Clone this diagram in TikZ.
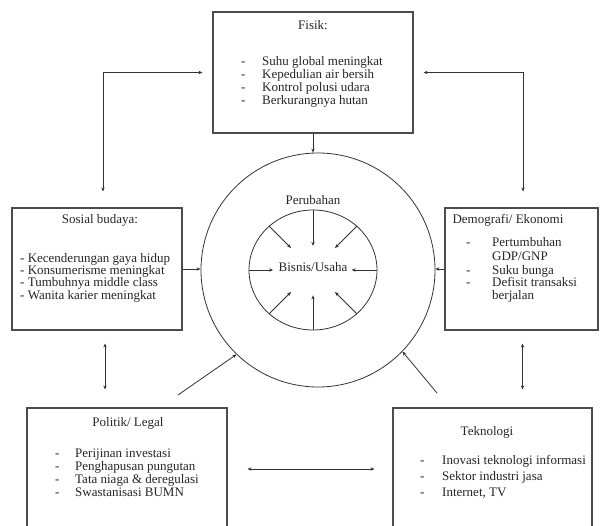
\documentclass[tikz,border=0pt]{standalone}
\usepackage{fontspec}
\setmainfont{Liberation Serif}
\usetikzlibrary{arrows.meta,calc,shapes.geometric}
\begin{document}
\begin{tikzpicture}[x=1pt,y=-1pt,
  box/.style={draw=black!70,line width=1.1pt,rectangle,inner sep=0pt},
  txt/.style={font=\fontsize{13}{13.5}\selectfont,inner sep=0pt,text=black!85},
  itm/.style={txt,anchor=base west},
  con/.style={draw=black!80,line width=0.8pt},
  tip/.style={-{Stealth[length=4pt,width=3.4pt]}},
  dbl/.style={{Stealth[length=4pt,width=3.4pt]}-{Stealth[length=4pt,width=3.4pt]}}
]
\useasboundingbox (0,0) rectangle (604,526);
\clip (0,0) rectangle (604,526);
\fill[white] (0,0) rectangle (604,526);

% boxes
\node[box,minimum width=200pt,minimum height=121pt] (fisik) at (313,72.5) {};
\node[box,minimum width=170pt,minimum height=122pt] (sosial) at (97,269) {};
\node[box,minimum width=153pt,minimum height=122pt] (demo) at (521.5,269) {};
\node[box,minimum width=200pt,minimum height=140pt] (politik) at (127,478) {};
\node[box,minimum width=199pt,minimum height=140pt] (tekno) at (492.5,478) {};

% circles
\node[con,circle,minimum size=234pt,inner sep=0pt] (outer) at (318,270) {};
\node[con,ellipse,minimum width=128pt,minimum height=120pt,inner sep=0pt] (inner) at (313,270) {};
\node[txt] (perubahan) at (313,200) {Perubahan};
\node[txt] (bisnis) at (313,267) {Bisnis/Usaha};

\foreach \a/\r in {90/0.4, 270/0.42, 180/0.62, 0/0.6, 135/0.5, 45/0.5, 225/0.5, 315/0.5}
  \draw[con,tip] (inner.\a) -- ($(inner.center)!\r!(inner.\a)$);

% titles
\node[txt] (fisikT) at (313,25) {Fisik:};
\node[txt] (sosialT) at (100,220) {Sosial budaya:};
\node[txt] (demoT) at (508,220) {Demografi/ Ekonomi};
\node[txt] (polT) at (128,423) {Politik/ Legal};
\node[txt] (tekT) at (487,432) {Teknologi};

% Fisik items
\foreach \t [count=\i] in {Suhu global meningkat, Kepedulian air bersih, Kontrol polusi udara, Berkurangnya hutan}
  \node[itm] (f\i) at (241,{66+13*(\i-1)}) {\makebox[21pt][l]{-}\t};

% Sosial items
\foreach \t [count=\i] in {Kecenderungan gaya hidup, Konsumerisme meningkat, Tumbuhnya middle class, Wanita karier meningkat}
  \node[itm] (s\i) at (20,{262+12.4*(\i-1)}) {- \t};

% Demografi items
\node[itm] (d1) at (466,247) {\makebox[26pt][l]{-}Pertumbuhan};
\node[itm] (d2) at (492,261) {GDP/GNP};
\node[itm] (d3) at (466,274) {\makebox[26pt][l]{-}Suku bunga};
\node[itm] (d4) at (466,286.5) {\makebox[26pt][l]{-}Defisit transaksi};
\node[itm] (d5) at (492,299) {berjalan};

% Politik items
\foreach \t [count=\i] in {Perijinan investasi, Penghapusan pungutan, Tata niaga \& deregulasi, Swastanisasi BUMN}
  \node[itm] (p\i) at (55,{457+13.3*(\i-1)}) {\makebox[20pt][l]{-}\t};

% Teknologi items
\foreach \t [count=\i] in {Inovasi teknologi informasi, Sektor industri jasa, {Internet, TV}}
  \node[itm] (t\i) at (420,{464+16*(\i-1)}) {\makebox[22pt][l]{-}\t};

% connectors
\draw[con,dbl,shorten <=10pt,shorten >=16pt] (fisik.west) -| ($(sosial.north)+(6,0)$);
\draw[con,dbl,shorten <=10pt,shorten >=16pt] (fisik.east) -| ($(demo.north)+(1.5,0)$);
\draw[con,tip] (fisik.south) -- (fisik.south |- outer.north);
\draw[con,tip] (sosial.east) -- (sosial.east -| outer.west);
\draw[con,tip] (demo.west) -- (demo.west -| outer.east);

\coordinate (sp) at ($(sosial.south)+(8,0)$);
\draw[con,dbl,shorten <=13pt,shorten >=18pt] (sp) -- (sp |- politik.north);
\coordinate (dt) at ($(demo.south)+(1,0)$);
\draw[con,dbl,shorten <=13pt,shorten >=18pt] (dt) -- (dt |- tekno.north);
\coordinate (ph) at ($(politik.east)+(0,-9)$);
\draw[con,dbl,shorten <=20pt,shorten >=18pt] (ph) -- (ph -| tekno.west);

\coordinate (pd) at (178,395);
\draw[con,tip] (pd) -- (outer.226);
\coordinate (td) at (437,393);
\draw[con,tip] (td) -- (outer.316);
\end{tikzpicture}
\end{document}
